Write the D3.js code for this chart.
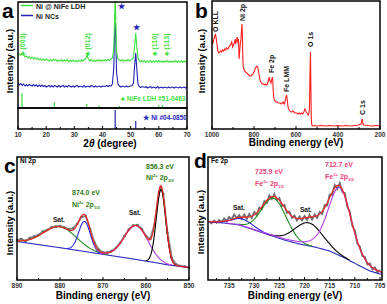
<!DOCTYPE html>
<html>
<head>
<meta charset="utf-8">
<script src="https://cdn.jsdelivr.net/npm/d3@7"></script>
<style>
  body { margin: 0; background: #fff; }
  text { font-family: Arial, "Liberation Sans", sans-serif; font-weight: bold; }
</style>
</head>
<body>
<svg id="fig" width="387" height="304"></svg>
<script>
// ---------- panel a : XRD ----------
var xrdNiFe = [[10,52],[10.5,54],[11,53],[11.5,55],[12,53.5],[12.5,51],[13,52],[13.5,50],[14,51.5],[14.5,49.5],[15,51],[15.5,49],[16,50.5],[16.5,48.5],[17,50],[17.5,48],[18,49.5],[18.5,47.5],[19,49],[19.5,47.5],[20,49],[21,47],[21.5,48.5],[22,47],[22.5,49],[23,47.5],[23.5,48.5],[24,46.5],[24.5,48],[25,47],[25.5,48.5],[26,46.5],[26.5,48],[27,47],[27.5,48.5],[28,46],[28.5,48],[29,46.5],[29.5,48],[30,46.5],[30.5,47.5],[31,46],[31.5,48],[32,46.5],[32.5,48],[33,47],[33.5,48.5],[34,49],[34.5,53],[35,49],[35.5,47],[36,48.5],[36.5,46.5],[37,48],[37.5,46.5],[38,48],[38.5,47],[39,48.5],[39.5,46.5],[40,48],[40.5,47],[41,48.5],[41.5,47],[42,48.5],[42.5,47.5],[43,49],[43.5,50],[44,58],[44.3,90],[44.5,112],[44.7,90],[45,56],[45.5,49],[46,48],[46.5,47],[47,48.5],[47.5,46.5],[48,48],[48.5,47],[49,48.5],[49.5,47],[50,48],[50.5,48.5],[51,51],[51.4,62],[51.8,75],[52.2,60],[52.6,50],[53,47.5],[53.5,46],[54,47.5],[54.5,46],[55,47.5],[55.5,45.5],[56,47],[56.5,46],[57,47.5],[57.5,45.5],[58,47],[58.5,46],[59,47.5],[59.5,46],[60,47.5],[60.5,46],[61,47],[61.5,45.5],[62,47],[62.5,46],[63,47.5],[63.5,45.5],[64,47],[64.5,45.5],[65,47],[65.5,46],[66,47.5],[66.5,45.5],[67,47],[67.5,46],[68,47.5],[68.5,45.5],[69,47],[69.5,46],[70,47.5]];
var xrdNi = [[10,25],[10.5,23],[11,24.5],[11.5,22.5],[12,24],[12.5,22],[13,23.5],[13.5,22],[14,23.5],[15,22],[15.5,23.5],[16,22],[16.5,23],[17,21.5],[17.5,23],[18,21.5],[18.5,23],[19,21.5],[19.5,22.5],[20,21],[21,22.5],[21.5,21],[22,22.5],[22.5,21],[23,22.5],[24,21],[24.5,22.5],[25,21],[26,22.5],[26.5,21],[27,22],[27.5,21],[28,22.5],[29,21],[29.5,22],[30,21],[31,22.5],[31.5,21],[32,22],[33,21],[33.5,22.5],[34,21],[35,22],[35.5,21],[36,22.5],[37,21],[37.5,22],[38,21],[39,22],[39.5,21],[40,22],[41,21.5],[41.5,22.5],[42,21.5],[42.5,22.5],[43,22],[43.5,24],[44,40],[44.3,75],[44.5,85],[44.7,72],[45,35],[45.5,24],[46,22],[46.5,21],[47,22],[48,21],[48.5,22],[49,21],[50,22],[50.5,22.5],[51,25],[51.4,42],[51.8,55],[52.2,38],[52.6,24],[53,21.5],[53.5,20.5],[54,21.5],[55,20.5],[55.5,21.5],[56,20],[57,21.5],[57.5,20],[58,21],[59,20],[59.5,21.5],[60,20],[61,21],[61.5,20],[62,21],[63,20],[63.5,21],[64,20],[65,21],[65.5,20],[66,21],[67,20],[67.5,21],[68,20],[69,21],[69.5,20],[70,21]];
var ldhRef = [[11.4,15],[22.9,6],[34.4,4],[38.8,2.5],[46.0,2],[59.9,3],[61.3,3]];   // JCPDS 51-0463
var niRef = [[44.5,19],[51.8,8]];                                                  // JCPDS 04-0850
var ldhHkl = [[11.4,'(003)'],[34.6,'(012)'],[58.3,'(110)'],[62.6,'(113)']];

// ---------- panel b : survey ----------
var survey = [[1000,88],[996,86],[992,89],[988,92],[984,95],[980,91],[976,84],[972,78],[968,76],[964,77],[960,78],[955,77],[950,79],[945,78],[940,80],[935,79],[930,81],[925,80],[920,82],[915,83],[910,85],[906,87],[902,82],[898,84],[894,86],[890,90],[887,85],[884,88],[880,92],[877,86],[874,90],[871,70],[868,78],[865,86],[862,90],[859,100],[857,105],[855,92],[853,70],[851,62],[848,60],[845,58],[840,57],[835,56],[830,55],[825,54],[820,53],[815,53],[810,54],[805,55],[800,57],[795,60],[790,62],[786,63],[782,62],[778,57],[774,52],[770,48],[765,46],[760,45],[755,45],[750,44],[745,45],[740,44],[736,45],[732,48],[728,52],[726,50],[724,48],[722,48],[719,46],[716,49],[713,52],[711,50],[709,40],[706,32],[703,29],[700,28],[695,27],[690,27],[685,26],[680,26],[675,26],[670,25],[665,26],[660,27],[656,25],[652,27],[648,32],[645,34],[642,30],[639,24],[636,20],[632,19],[628,18],[624,17],[620,17],[615,18],[610,17],[605,16],[600,16],[595,16],[590,15],[585,16],[580,15],[575,16],[570,15],[565,16],[561,18],[558,20],[555,19],[551,17],[548,16],[545,15],[540,14],[536,20],[533,60],[531,77],[529,40],[527,10],[525,4],[520,3],[510,3.5],[500,3],[480,3.5],[460,3],[440,3.5],[420,3],[400,3.5],[380,3],[360,3.5],[340,3],[320,3.5],[300,4],[290,5],[286,9],[284,10],[282,6],[278,4],[260,3.5],[240,3],[220,3.5],[200,3]];

// ---------- panel c : Ni 2p ----------
var ni2pRaw = [[890,40],[889,41],[888,39],[887,42],[886,43.5],[885,45],[884,48.5],[883,50],[882,52.5],[881,53.5],[880,54],[879,52.5],[878,51],[877,51.5],[876,56],[875,63],[874,64],[873,51],[872,37.5],[871,30.5],[870,27.5],[869,27.5],[868,29],[867,32],[866,37],[865,44],[864,50.5],[863,54.5],[862,55],[861,51],[860,44],[859,41],[858,56],[857,88],[856.5,93],[856,86],[855,47],[854,22],[853,15.5],[852,14],[851,13.5],[850,12.5]];
var ni2pBg = [[890,38.5],[880,32.3],[870,25.7],[862,20.3],[858,17.5],[855,15.2],[850,12.5]];
var ni2pCentre = [880.0, 874.3, 862.3, 856.5];
var ni2pHeight = [21, 30, 34, 74];
var ni2pFwhm = [9, 3.2, 6.5, 2.6];

// ---------- panel d : Fe 2p ----------
var fe2pRaw = [59,56.5,59.5,57,60,58,61.5,59,63,60.5,65.5,62,65,61,65.5,61,66,62,68,65,72.5,71,79,77,84.5,81,86,80,82,74,75,67,68.5,62,64.5,59.5,63.5,59.5,64,60,65,60.5,65.5,62,68,66,75,74.5,85.5,85,95,91,97,88,87,73,68.5,54,49.5,36.5,33.5,24,23,15.5,16.5,10.5,12.5,7.5,10];
var fe2pRawStart = 739, fe2pRawStep = 0.5;
var fe2pBg = [[739,58],[736,57],[733,55],[730,50],[727,45],[724,40],[721,36],[718,33],[715,29],[712,22],[709,14],[707,9],[705,6]];
var fe2pCentre = [732.3, 726.1, 719.2, 713.0];
var fe2pHeight = [7, 38, 23, 68];
var fe2pFwhm = [5, 5.8, 6.5, 5.5];
var fe2pLorentz = [0, 0, 0, 0.3];

// ======================================================
var svg = d3.select('#fig');

function frame(x0, y0, x1, y1) {
  svg.append('rect').attr('x', x0).attr('y', y0).attr('width', x1 - x0).attr('height', y1 - y0)
    .attr('fill', 'none').attr('stroke', '#000').attr('stroke-width', 1.5);
}

function bottomTicks(x, yb, majors, minors) {
  minors.forEach(function (t) {
    svg.append('line').attr('x1', x(t)).attr('x2', x(t)).attr('y1', yb).attr('y2', yb - 2)
      .attr('stroke', '#000').attr('stroke-width', 1);
  });
  majors.forEach(function (t) {
    svg.append('line').attr('x1', x(t)).attr('x2', x(t)).attr('y1', yb).attr('y2', yb - 3)
      .attr('stroke', '#000').attr('stroke-width', 1);
    svg.append('text').attr('x', x(t)).attr('y', yb + 8).attr('text-anchor', 'middle')
      .attr('font-size', 6.5).attr('fill', '#333').text(t);
  });
}

function yTitle(cx, cy) {
  svg.append('text').attr('transform', 'translate(' + cx + ',' + cy + ') rotate(-90)')
    .attr('text-anchor', 'middle').attr('font-size', 9.5).text('Intensity (a.u.)');
}

function letter(x, y, s) {
  svg.append('text').attr('x', x).attr('y', y).attr('font-size', 21).text(s);
}

function clip(id, x0, y0, x1, y1) {
  svg.append('clipPath').attr('id', id).append('rect')
    .attr('x', x0).attr('y', y0).attr('width', x1 - x0).attr('height', y1 - y0);
  return 'url(#' + id + ')';
}

// rich label: parts = [[text, 'n'|'sup'|'sub'], ...]
function rich(x, y, size, color, parts, anchor) {
  var t = svg.append('text').attr('x', x).attr('y', y).attr('font-size', size)
    .attr('fill', color).attr('text-anchor', anchor || 'start');
  var shift = 0;
  parts.forEach(function (p) {
    var target = p[1] === 'sup' ? -size * 0.4 : p[1] === 'sub' ? size * 0.25 : 0;
    t.append('tspan').attr('dy', target - shift)
      .attr('font-size', p[1] === 'n' ? size : size * 0.6).text(p[0]);
    shift = target;
  });
}

function gauss(e, c, h, w) { return h * Math.exp(-4 * Math.LN2 * (e - c) * (e - c) / (w * w)); }
function lorentz(e, c, h, w) { return h / (1 + 4 * (e - c) * (e - c) / (w * w)); }

// ================= panel a =================
(function () {
  var L = 18, R = 187, T = 2, M = 108, B = 129;
  var x = d3.scaleLinear().domain([10, 70]).range([L, R]);
  var yU = d3.scaleLinear().domain([0, 106]).range([M, T]);
  var yL = d3.scaleLinear().domain([0, 21]).range([B, M]);
  var cp = clip('clipA', L, T, R, M);
  var line = d3.line().x(function (d) { return x(d[0]); }).y(function (d) { return yU(d[1]); });

  svg.append('path').datum(xrdNi).attr('d', line).attr('fill', 'none')
    .attr('stroke', '#2323b8').attr('stroke-width', 1.1).attr('clip-path', cp);
  svg.append('path').datum(xrdNiFe).attr('d', line).attr('fill', 'none')
    .attr('stroke', '#3ee03e').attr('stroke-width', 1.1).attr('clip-path', cp);

  ldhRef.forEach(function (d) {
    svg.append('line').attr('x1', x(d[0])).attr('x2', x(d[0])).attr('y1', yU(0)).attr('y2', yU(d[1]))
      .attr('stroke', '#3ee03e').attr('stroke-width', 1.2);
  });
  niRef.forEach(function (d) {
    svg.append('line').attr('x1', x(d[0])).attr('x2', x(d[0])).attr('y1', yL(0)).attr('y2', yL(d[1]))
      .attr('stroke', '#2323b8').attr('stroke-width', 1.2);
  });

  frame(L, T, R, M);
  frame(L, M, R, B);
  bottomTicks(x, B, d3.range(10, 71, 10), d3.range(15, 70, 10));

  // legend
  svg.append('line').attr('x1', 21).attr('x2', 33).attr('y1', 5.5).attr('y2', 5.5).attr('stroke', '#3ee03e').attr('stroke-width', 1.5);
  svg.append('text').attr('x', 36).attr('y', 8.5).attr('font-size', 7).attr('fill', '#222').text('Ni @ NiFe LDH');
  svg.append('line').attr('x1', 21).attr('x2', 33).attr('y1', 15.5).attr('y2', 15.5).attr('stroke', '#2323b8').attr('stroke-width', 1.5);
  svg.append('text').attr('x', 36).attr('y', 18.5).attr('font-size', 7).attr('fill', '#222').text('Ni NCs');

  // hkl labels
  ldhHkl.forEach(function (d) {
    svg.append('text').attr('transform', 'translate(' + (x(d[0]) + 2.8) + ',' + yU(52) + ') rotate(-90)')
      .attr('font-size', 7).attr('fill', '#3ee03e').text('\u2663 ' + d[1]);
  });
  svg.append('text').attr('x', x(44.5) + 3).attr('y', yU(99)).attr('font-size', 8).attr('fill', '#2323b8').text('\u2605');
  svg.append('text').attr('x', x(51.8) - 3).attr('y', yU(78)).attr('font-size', 8).attr('fill', '#2323b8').text('\u2605');
  svg.append('text').attr('x', x(46.5)).attr('y', yU(7)).attr('font-size', 6.5).attr('fill', '#3ee03e').text('\u2663 NiFe LDH #51-0463');
  svg.append('text').attr('x', x(54.5)).attr('y', yL(9)).attr('font-size', 6.5).attr('fill', '#2323b8').text('\u2605 Ni #04-0850');

  var t = svg.append('text').attr('x', 110).attr('y', 147).attr('text-anchor', 'middle').attr('font-size', 10);
  t.append('tspan').text('2');
  t.append('tspan').attr('font-style', 'italic').text('\u03b8');
  t.append('tspan').text(' (degree)');
  yTitle(12.5, 61);
  letter(2, 18, 'a');
})();

// ================= panel b =================
(function () {
  var L = 212, R = 380, T = 1, B = 129;
  var x = d3.scaleLinear().domain([1000, 200]).range([L, R]);
  var y = d3.scaleLinear().domain([0, 128]).range([B, T]);
  var line = d3.line().x(function (d) { return x(d[0]); }).y(function (d) { return y(d[1]); });
  svg.append('path').datum(survey).attr('d', line).attr('fill', 'none')
    .attr('stroke', '#ff1f1f').attr('stroke-width', 1.1).attr('clip-path', clip('clipB', L, T, R, B));
  frame(L, T, R, B);
  bottomTicks(x, B, d3.range(1000, 199, -200), d3.range(900, 200, -200));

  var labs = [['O KLL', 983, 97], ['Ni 2p', 857, 108], ['Fe 2p', 716, 56], ['Fe LMM', 645, 37], ['O 1s', 531, 82], ['C 1s', 284, 14]];
  labs.forEach(function (d) {
    svg.append('text').attr('transform', 'translate(' + (x(d[1]) + 2.5) + ',' + y(d[2]) + ') rotate(-90)')
      .attr('font-size', 7).attr('fill', '#111').text(d[0]);
  });
  svg.append('text').attr('x', (L + R) / 2).attr('y', 146).attr('text-anchor', 'middle').attr('font-size', 10).text('Binding energy (eV)');
  yTitle(205, 61);
  letter(195, 18, 'b');
})();

// ================= panel c =================
(function () {
  var L = 17, R = 189, T = 157, B = 280;
  var x = d3.scaleLinear().domain([890, 850]).range([L, R]);
  var y = d3.scaleLinear().domain([0, 123]).range([B, T]);
  var bg = d3.scaleLinear().domain(ni2pBg.map(function (d) { return d[0]; })).range(ni2pBg.map(function (d) { return d[1]; }));
  var grid = d3.range(890, 849.95, -0.1);
  var line = d3.line().x(function (d) { return x(d[0]); }).y(function (d) { return y(d[1]); });
  var cp = clip('clipC', L, T, R, B);

  svg.append('path').datum(ni2pRaw).attr('d', line).attr('fill', 'none')
    .attr('stroke', '#8a8a8a').attr('stroke-width', 2).attr('clip-path', cp);
  svg.selectAll('.rawc').data(ni2pRaw).enter().append('circle')
    .attr('cx', function (d) { return x(d[0]); }).attr('cy', function (d) { return y(d[1]); })
    .attr('r', 1.3).attr('fill', '#6a6a6a');

  var colors = ['#1f8a1f', '#2a2ad8', '#b23ee6', '#000000'];
  svg.append('path').datum(grid.map(function (e) { return [e, bg(e)]; })).attr('d', line)
    .attr('fill', 'none').attr('stroke', '#2b2bc0').attr('stroke-width', 1.1);
  ni2pCentre.forEach(function (c, i) {
    var pts = grid.filter(function (e) { return gauss(e, c, ni2pHeight[i], ni2pFwhm[i]) > 0.3; })
      .map(function (e) { return [e, bg(e) + gauss(e, c, ni2pHeight[i], ni2pFwhm[i])]; });
    svg.append('path').datum(pts).attr('d', line).attr('fill', 'none')
      .attr('stroke', colors[i]).attr('stroke-width', 1.1);
  });
  var env = grid.map(function (e) {
    var s = bg(e);
    ni2pCentre.forEach(function (c, i) { s += gauss(e, c, ni2pHeight[i], ni2pFwhm[i]); });
    return [e, s];
  });
  svg.append('path').datum(env).attr('d', line).attr('fill', 'none')
    .attr('stroke', '#ff2020').attr('stroke-width', 1.1).attr('clip-path', cp);

  frame(L, T, R, B);
  bottomTicks(x, B, d3.range(890, 849, -10), d3.range(885, 850, -10));

  svg.append('text').attr('x', 20).attr('y', 163).attr('font-size', 6.5).text('Ni 2p');
  var g = '#2f7d12';
  rich(146, 169, 7, g, [['856.3 eV', 'n']]);
  rich(146, 180, 7, g, [['Ni', 'n'], ['2+', 'sup'], [' 2p', 'n'], ['3/2', 'sub']]);
  rich(72, 195, 7, g, [['874.0 eV', 'n']]);
  rich(72, 207, 7, g, [['Ni', 'n'], ['2+', 'sup'], [' 2p', 'n'], ['1/2', 'sub']]);
  svg.append('text').attr('x', 53).attr('y', 222).attr('font-size', 6.5).attr('fill', '#111').text('Sat.');
  svg.append('text').attr('x', 129).attr('y', 215).attr('font-size', 6.5).attr('fill', '#111').text('Sat.');

  svg.append('text').attr('x', (L + R) / 2).attr('y', 299).attr('text-anchor', 'middle').attr('font-size', 10).text('Binding energy (eV)');
  yTitle(12.5, 223);
  letter(4, 173, 'c');
})();

// ================= panel d =================
(function () {
  var L = 208, R = 382, T = 157, B = 280;
  var x = d3.scaleLinear().domain([739.2, 704.6]).range([L, R]);
  var y = d3.scaleLinear().domain([0, 123]).range([B, T]);
  var bg = d3.scaleLinear().domain(fe2pBg.map(function (d) { return d[0]; })).range(fe2pBg.map(function (d) { return d[1]; })).clamp(true);
  var grid = d3.range(739.2, 704.55, -0.1);
  var line = d3.line().x(function (d) { return x(d[0]); }).y(function (d) { return y(d[1]); });
  var cp = clip('clipD', L, T, R, B);

  function comp(e, i) {
    var m = fe2pLorentz[i];
    return (1 - m) * gauss(e, fe2pCentre[i], fe2pHeight[i], fe2pFwhm[i]) + m * lorentz(e, fe2pCentre[i], fe2pHeight[i], fe2pFwhm[i]);
  }

  var raw = fe2pRaw.map(function (v, i) { return [fe2pRawStart - i * fe2pRawStep, v]; });
  svg.append('path').datum(raw).attr('d', line).attr('fill', 'none')
    .attr('stroke', '#6e6e6e').attr('stroke-width', 1.8).attr('clip-path', cp);

  var colors = ['#2a2ad8', '#1f8a1f', '#000000', '#b23ee6'];
  svg.append('path').datum(grid.map(function (e) { return [e, bg(e)]; })).attr('d', line)
    .attr('fill', 'none').attr('stroke', '#2b2bc0').attr('stroke-width', 1.1);
  fe2pCentre.forEach(function (c, i) {
    var pts = grid.filter(function (e) { return comp(e, i) > 0.3; })
      .map(function (e) { return [e, bg(e) + comp(e, i)]; });
    svg.append('path').datum(pts).attr('d', line).attr('fill', 'none')
      .attr('stroke', colors[i]).attr('stroke-width', 1.1).attr('clip-path', cp);
  });
  var env = grid.map(function (e) {
    var s = bg(e);
    fe2pCentre.forEach(function (c, i) { s += comp(e, i); });
    return [e, s];
  });
  svg.append('path').datum(env).attr('d', line).attr('fill', 'none')
    .attr('stroke', '#ff2020').attr('stroke-width', 1.1).attr('clip-path', cp);

  frame(L, T, R, B);
  bottomTicks(x, B, d3.range(735, 704, -5), d3.range(737.5, 705, -5));

  svg.append('text').attr('x', 211).attr('y', 163).attr('font-size', 6.5).text('Fe 2p');
  var p = '#ee3f7a';
  rich(255, 174, 7, p, [['725.9 eV', 'n']]);
  rich(255, 186, 7, p, [['Fe', 'n'], ['3+', 'sup'], [' 2p', 'n'], ['1/2', 'sub']]);
  rich(325, 167, 7, p, [['712.7 eV', 'n']]);
  rich(325, 179, 7, p, [['Fe', 'n'], ['3+', 'sup'], [' 2p', 'n'], ['3/2', 'sub']]);
  svg.append('text').attr('x', 233).attr('y', 210).attr('font-size', 6.5).attr('fill', '#111').text('Sat.');
  svg.append('text').attr('x', 300).attr('y', 212).attr('font-size', 6.5).attr('fill', '#111').text('Sat.');

  svg.append('text').attr('x', (L + R) / 2).attr('y', 299).attr('text-anchor', 'middle').attr('font-size', 10).text('Binding energy (eV)');
  yTitle(204, 222);
  letter(194, 168, 'd');
})();
</script>
</body>
</html>
